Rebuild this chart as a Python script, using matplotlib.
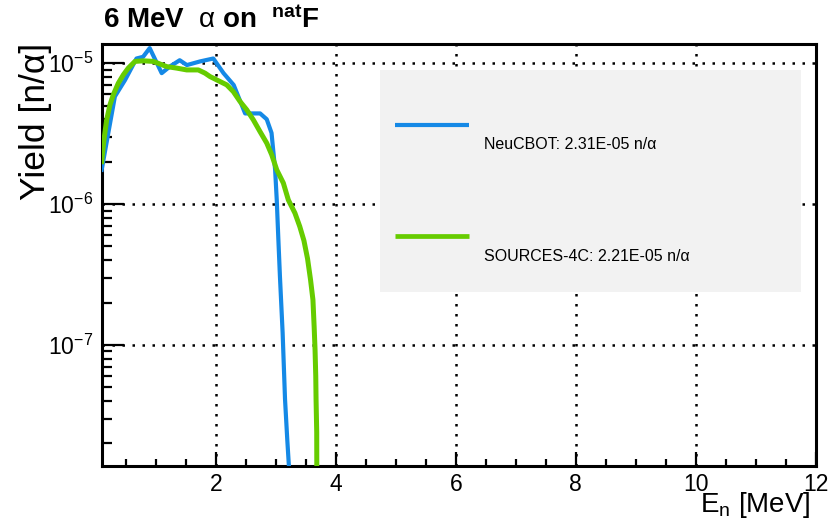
import matplotlib
matplotlib.use("Agg")
import matplotlib.pyplot as plt
from matplotlib.patches import Rectangle
from matplotlib.ticker import LogLocator, MultipleLocator, NullFormatter
import numpy as np

# NeuCBOT spectrum (E in MeV, yield n/alpha)
neu_E = [0.10, 0.32, 0.49, 0.68, 0.79, 0.90, 1.10, 1.24, 1.40, 1.52, 1.74, 1.96,
         2.13, 2.30, 2.49, 2.74, 2.85, 2.93, 2.99, 3.017, 3.043, 3.07, 3.115, 3.155,
         3.193, 3.24]
neu_y = [1.75e-6, 5.8e-6, 7.6e-6, 1.08e-5, 1.11e-5, 1.28e-5, 8.5e-6, 9.5e-6, 1.05e-5,
         9.7e-6, 1.03e-5, 1.08e-5, 8.5e-6, 7.0e-6, 4.4e-6, 4.4e-6, 4.0e-6, 3.2e-6,
         1.75e-6, 1.07e-6, 5.74e-7, 3.07e-7, 1.22e-7, 4.1e-8, 2.1e-8, 1.0e-8]

# SOURCES-4C spectrum
s4c_E = [0.10, 0.138, 0.183, 0.238, 0.293, 0.377, 0.46, 0.543, 0.655, 0.793, 0.96,
         1.183, 1.35, 1.517, 1.71, 1.822, 1.905, 2.183, 2.293, 2.405, 2.517, 2.627,
         2.738, 2.85, 2.933, 3.017, 3.127, 3.21, 3.32, 3.40, 3.47, 3.53, 3.58, 3.62,
         3.64, 3.655, 3.667, 3.672, 3.683, 3.685]
s4c_y = [2.0e-6, 2.86e-6, 3.96e-6, 5.06e-6, 5.96e-6, 7.21e-6, 8.26e-6, 9.23e-6,
         1.03e-5, 1.04e-5, 1.03e-5, 9.46e-6, 9.23e-6, 8.96e-6, 8.96e-6, 8.5e-6, 8.04e-6,
         7.02e-6, 6.29e-6, 5.35e-6, 4.67e-6, 3.96e-6, 3.27e-6, 2.71e-6, 2.24e-6, 1.75e-6,
         1.41e-6, 1.07e-6, 8.63e-7, 6.94e-7, 5.5e-7, 4.1e-7, 2.9e-7, 2.09e-7, 1.35e-7,
         9.27e-8, 6.0e-8, 4.1e-8, 2.4e-8, 1.0e-8]

names = ["NeuCBOT", "SOURCES-4C"]
totals = ["2.31E-05", "2.21E-05"]
colors = ["#1589e6", "#66cc00"]

plt.rcParams['font.family'] = ['Liberation Sans', 'DejaVu Sans']
plt.rcParams['mathtext.fontset'] = 'custom'
plt.rcParams['mathtext.rm'] = 'Liberation Sans'
plt.rcParams['mathtext.it'] = 'Liberation Sans:italic'
plt.rcParams['mathtext.bf'] = 'Liberation Sans:bold'

fig = plt.figure(figsize=(8.3, 5.22), dpi=100)
ax = fig.add_axes([0.1225, 0.108, 0.8605, 0.8078])

ax.plot(neu_E, neu_y, color=colors[0], lw=3.0, zorder=3)
ax.plot(s4c_E, s4c_y, color=colors[1], lw=3.6, zorder=3)

ax.set_yscale('log')
ax.set_xlim(0.1, 12)
ax.set_ylim(1.39e-8, 1.37e-5)

ax.xaxis.set_major_locator(MultipleLocator(2))
ax.xaxis.set_minor_locator(MultipleLocator(0.5))
ax.yaxis.set_major_locator(LogLocator(base=10))
ax.yaxis.set_minor_locator(LogLocator(base=10, subs=np.arange(2, 10)))
ax.yaxis.set_minor_formatter(NullFormatter())

ax.tick_params(which='both', direction='in', top=False, right=False, width=1.6)
ax.tick_params(axis='y', which='major', length=16, labelsize=16.5, pad=6)
ax.tick_params(axis='y', which='minor', length=7)
ax.tick_params(axis='x', which='major', length=10, labelsize=16.5, pad=5)
ax.tick_params(axis='x', which='minor', length=5)
for s in ax.spines.values():
    s.set_linewidth(2.2)

ax.grid(which='major', color='k', linestyle=(0, (1, 3)), linewidth=1.8)
ax.set_axisbelow(True)

# legend box, ROOT style
ax.add_patch(Rectangle((0.3896, 0.412), 0.589, 0.526, transform=ax.transAxes,
                       facecolor='#f2f2f2', edgecolor='none', zorder=1.5))
ly = [0.8067, 0.5435]
ty = [0.7604, 0.4956]
for i in range(2):
    ax.plot([0.4106, 0.5145], [ly[i], ly[i]], transform=ax.transAxes,
            color=colors[i], lw=3.4 if i else 3.0, zorder=2, solid_capstyle='butt')
    ax.text(0.5352, ty[i], names[i] + ": " + totals[i] + " n/\u03b1",
            transform=ax.transAxes, fontsize=11.5, va='center', ha='left', zorder=2)

fig.text(103 / 830, 1 - 28 / 522,
         r"$\mathbf{6\ MeV}\ \ \mathrm{\alpha}\ \mathbf{on}\ \ ^{\mathbf{nat}}\mathbf{F}$",
         fontsize=20, va='baseline', ha='left')
fig.text(35 / 830, 1 - 43 / 522, "Yield [n/\u03b1]", rotation=90,
         fontsize=25.5, va='top', ha='center')
fig.text(811 / 830, 1 - 512 / 522, r"E$_{\mathrm{n}}$ [MeV]",
         fontsize=20, va='baseline', ha='right')

fig.savefig("out.png", dpi=100)
